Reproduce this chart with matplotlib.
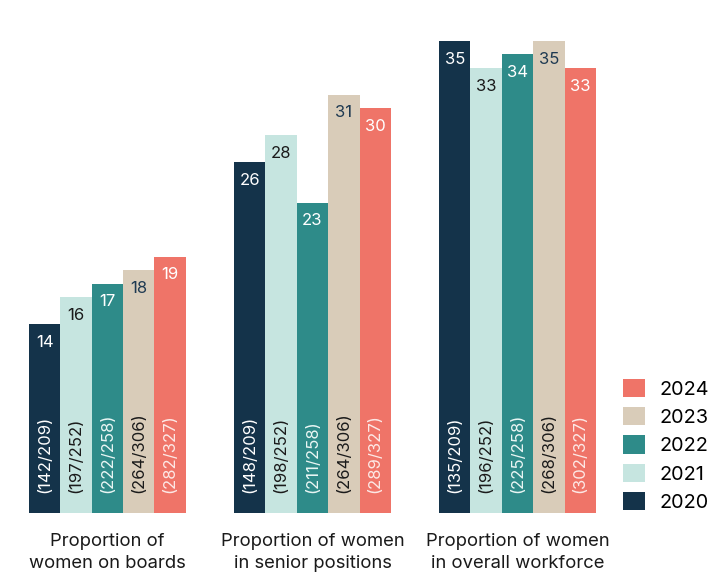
import matplotlib
matplotlib.use("Agg")
import matplotlib.pyplot as plt
from matplotlib.patches import Patch
import numpy as np

plt.rcParams['font.family'] = ['Inter', 'DejaVu Sans']

categories = ["Proportion of\nwomen on boards",
              "Proportion of women\nin senior positions",
              "Proportion of women\nin overall workforce"]
years = ["2020", "2021", "2022", "2023", "2024"]
values = {
    "2020": [14, 26, 35],
    "2021": [16, 28, 33],
    "2022": [17, 23, 34],
    "2023": [18, 31, 35],
    "2024": [19, 30, 33],
}
counts = {
    "2020": ["(142/209)", "(148/209)", "(135/209)"],
    "2021": ["(197/252)", "(198/252)", "(196/252)"],
    "2022": ["(222/258)", "(211/258)", "(225/258)"],
    "2023": ["(264/306)", "(264/306)", "(268/306)"],
    "2024": ["(282/327)", "(289/327)", "(302/327)"],
}

colors = {"2020": "#14334a", "2021": "#c6e5e0", "2022": "#2e8b89",
          "2023": "#d9ccb9", "2024": "#ef7468"}
value_colors = {"2020": "white", "2021": "#1a1a1a", "2022": "white",
                "2023": "#1f3a52", "2024": "white"}
count_colors = {"2020": "white", "2021": "#1a1a1a", "2022": "#eaf6f4",
                "2023": "#1a1a1a", "2024": "#fde9e6"}

fig = plt.figure(figsize=(7.26, 5.74), dpi=100)
ax = fig.add_axes([0, 0.1063, 1, 0.8223])

x = np.arange(len(categories))
width = 0.153
offsets = (np.arange(len(years)) - 2) * width

for i, yr in enumerate(years):
    xs = x + offsets[i]
    ax.bar(xs, values[yr], width=width, color=colors[yr], linewidth=0)
    for xi, v, c in zip(xs, values[yr], counts[yr]):
        ax.annotate(str(v), (xi, v), xytext=(0, -13), textcoords="offset points",
                    ha="center", va="center", fontsize=12, color=value_colors[yr])
        ax.annotate(c, (xi, 0), xytext=(0, 14.5), textcoords="offset points",
                    ha="center", va="bottom", rotation=90, fontsize=12,
                    color=count_colors[yr])

ax.set_xlim(-0.524, 3.017)
ax.set_ylim(0, 35)
ax.axis("off")

for xi, lab in zip(x, categories):
    ax.annotate(lab, (xi, 0), xytext=(0, -14.5), textcoords="offset points",
                ha="center", va="top", fontsize=13.3, color="#1a1a1a",
                linespacing=1.38)

handles = [Patch(facecolor=colors[yr], label=yr) for yr in reversed(years)]
fig.legend(handles=handles, loc="lower left", bbox_to_anchor=(0.858, 0.108),
           frameon=False, fontsize=14.3, handlelength=1.12, handleheight=1.05,
           handletextpad=0.7, labelspacing=0.42, borderpad=0, borderaxespad=0)

fig.savefig("out.png", dpi=100)
